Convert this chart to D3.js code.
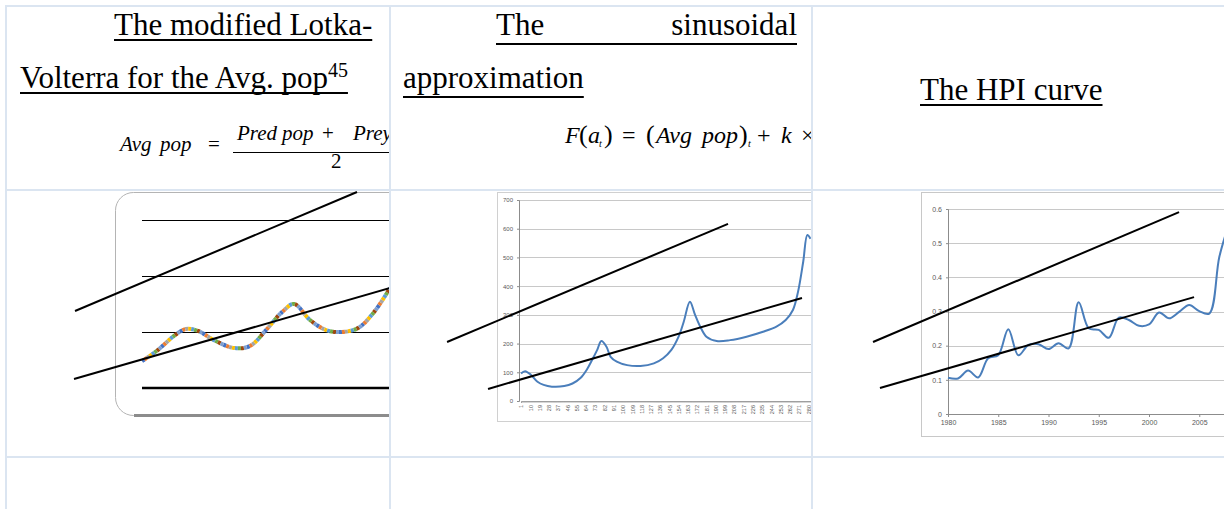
<!DOCTYPE html>
<html>
<head>
<meta charset="utf-8">
<script src="https://cdn.jsdelivr.net/npm/d3@7"></script>
<style>
  body { margin: 0; background: #fff; }
  .axis text { font-family: "Liberation Sans", sans-serif; fill: #595959; }
</style>
</head>
<body>
<script>
// page size
var w = 1224;
var h = 509;

/*
data
*/

// modified Lotka-Volterra: average population per step
var lvSteps = [0, 4, 8, 11, 14, 18, 23, 27, 31, 35, 38, 42, 46, 50, 54, 58, 62];
var lvAvgPop = [9.6, 13.6, 18.6, 21.1, 20.4, 17.1, 14.3, 15, 20.7, 27.1, 30, 24.3, 20.7, 20, 21.4, 27.1, 35.7];
var lvGrid = [20, 40, 60];
var lvUpperTrend = [[-16.75, 27.5], [53.75, 70]];
var lvLowerTrend = [[-17, 3.2], [62, 35.7]];

// sinusoidal approximation: category index and value
var sinIndex = [1, 5, 11, 17, 23, 31, 43, 51, 59, 65, 70, 75, 79, 84, 88, 94, 104, 117, 130, 139, 147, 154, 159, 165, 170, 175, 181, 191, 204, 220, 236, 249, 258, 265, 270, 275, 279, 282];
var sinValue = [96, 104, 90, 67, 56, 50, 52, 61, 81, 110, 143, 178, 209, 189, 154, 137, 125, 122, 131, 149, 178, 224, 276, 346, 300, 259, 224, 209, 212, 224, 241, 259, 282, 317, 381, 485, 578, 565];
var sinYTicks = [0, 100, 200, 300, 400, 500, 600, 700];
var sinXLabels = [1, 10, 19, 28, 37, 46, 55, 64, 73, 82, 91, 100, 109, 118, 127, 136, 145, 154, 163, 172, 181, 190, 199, 208, 217, 226, 235, 244, 253, 262, 271, 280];
var sinCategoryCount = 290;
var sinUpperTrend = [[-70.8, 205.6], [202, 617]];
var sinLowerTrend = [[-31, 42], [273.8, 359]];

// HPI curve
var hpiYears = [1980, 1981, 1982, 1983, 1984, 1985, 1986, 1987, 1988, 1989, 1990, 1991, 1992, 1993, 1994, 1995, 1996, 1997, 1998, 1999, 2000, 2001, 2002, 2003, 2004, 2005, 2006, 2007, 2008];
var hpiValues = [0.106, 0.104, 0.127, 0.107, 0.163, 0.172, 0.248, 0.172, 0.202, 0.204, 0.19, 0.207, 0.192, 0.327, 0.251, 0.246, 0.223, 0.282, 0.275, 0.258, 0.262, 0.297, 0.28, 0.299, 0.319, 0.301, 0.294, 0.46, 0.56];
var hpiYTicks = [0, 0.1, 0.2, 0.3, 0.4, 0.5, 0.6];
var hpiXTicks = [1980, 1985, 1990, 1995, 2000, 2005];
var hpiUpperTrend = [[1972.54, 0.2107], [2002.99, 0.591]];
var hpiLowerTrend = [[1973.23, 0.076], [2004.48, 0.342]];

// marker colours of the multicoloured series
var lvColors = ["#4472c4", "#ed7d31", "#a5a5a5", "#ffc000", "#5b9bd5", "#70ad47", "#9e480e", "#7f9fcf"];

var serif = "'Liberation Serif', 'Times New Roman', serif";

var svg = d3.select("body")
            .append("svg")
            .attr("width", w)
            .attr("height", h);

// one clip per table column
var defs = svg.append("defs");
[[7, 389], [391, 811], [813, 1224]].forEach(function(c, i) {
  defs.append("clipPath").attr("id", "col" + i)
      .append("rect")
      .attr("x", c[0]).attr("y", 0)
      .attr("width", c[1] - c[0]).attr("height", h);
});

// writes a header text
function headText(g, x, y, txt, anchor) {
  var t = g.append("text")
           .attr("x", x)
           .attr("y", y)
           .attr("font-family", serif)
           .attr("font-size", 31)
           .attr("text-anchor", anchor || "start")
           .text(txt);
  return t;
}

function underline(g, x1, x2, y) {
  g.append("line")
   .attr("x1", x1).attr("x2", x2)
   .attr("y1", y).attr("y2", y)
   .attr("stroke", "#000")
   .attr("stroke-width", 2);
}

// one piece of a formula
function mathText(g, x, y, txt, size, italic) {
  g.append("text")
   .attr("x", x).attr("y", y)
   .attr("font-family", serif)
   .attr("font-size", size)
   .attr("font-style", italic ? "italic" : "normal")
   .text(txt);
}

/*
column 1: Lotka-Volterra
*/
var c1 = svg.append("g").attr("clip-path", "url(#col0)");

var t1 = headText(c1, 114, 35, "The modified Lotka-");
underline(c1, 114, 114 + t1.node().getComputedTextLength(), 40);

var t2 = headText(c1, 20, 88, "Volterra for the Avg. pop");
t2.append("tspan").attr("dy", -11).attr("font-size", 20).text("45");
underline(c1, 20, 20 + t2.node().getComputedTextLength(), 93);

// formula: Avg pop = (Pred pop + Prey pop) / 2
mathText(c1, 120, 151, "Avg", 21, true);
mathText(c1, 160, 151, "pop", 21, true);
mathText(c1, 208, 151, "=", 21, false);
mathText(c1, 237, 140, "Pred", 21, true);
mathText(c1, 282, 140, "pop", 21, true);
mathText(c1, 322, 140, "+", 21, false);
mathText(c1, 353, 140, "Prey", 21, true);
mathText(c1, 331, 168, "2", 21, false);
c1.append("line")
  .attr("x1", 233).attr("x2", 440)
  .attr("y1", 152.5).attr("y2", 152.5)
  .attr("stroke", "#000").attr("stroke-width", 1.2);

// chart
var lvX = d3.scaleLinear().domain([0, 62]).range([142, 390]);
var lvY = d3.scaleLinear().domain([0, 60]).range([388, 220]);

c1.append("rect")
  .attr("x", 115.5).attr("y", 192.5)
  .attr("width", 330).attr("height", 223)
  .attr("rx", 18)
  .attr("fill", "none")
  .attr("stroke", "#b4b4b4");

c1.append("line")
  .attr("x1", 134).attr("x2", 440)
  .attr("y1", 415.5).attr("y2", 415.5)
  .attr("stroke", "#8c8c8c").attr("stroke-width", 3);

c1.selectAll(".lvgrid")
  .data(lvGrid)
  .enter()
  .append("line")
  .attr("class", "lvgrid")
  .attr("x1", lvX(0)).attr("x2", lvX(70))
  .attr("y1", d => Math.round(lvY(d)) + 0.5).attr("y2", d => Math.round(lvY(d)) + 0.5)
  .attr("stroke", "#000").attr("stroke-width", 1);

c1.append("line")
  .attr("x1", lvX(0)).attr("x2", lvX(70))
  .attr("y1", lvY(0)).attr("y2", lvY(0))
  .attr("stroke", "#000").attr("stroke-width", 2.4);

var lvLine = d3.line()
               .x(d => lvX(d[0]))
               .y(d => lvY(d[1]))
               .curve(d3.curveCatmullRom);
var lvPoints = lvSteps.map((s, i) => [s, lvAvgPop[i]]);

// dotted series, one dash colour after another
var dash = 3;
lvColors.forEach(function(col, i) {
  c1.append("path")
    .attr("d", lvLine(lvPoints))
    .attr("fill", "none")
    .attr("stroke", col)
    .attr("stroke-width", 4)
    .attr("stroke-dasharray", dash + " " + dash * (lvColors.length - 1))
    .attr("stroke-dashoffset", -dash * i);
});

var lvTrend = d3.line().x(d => lvX(d[0])).y(d => lvY(d[1]));
[lvUpperTrend, lvLowerTrend].forEach(function(tr) {
  c1.append("path")
    .attr("d", lvTrend(tr))
    .attr("fill", "none")
    .attr("stroke", "#000")
    .attr("stroke-width", 2);
});

/*
column 2: sinusoidal approximation
*/
var c2 = svg.append("g").attr("clip-path", "url(#col1)");

headText(c2, 496, 35, "The");
headText(c2, 797, 35, "sinusoidal", "end");
underline(c2, 496, 797, 44);
var t3 = headText(c2, 403, 88, "approximation");
underline(c2, 403, 403 + t3.node().getComputedTextLength(), 97);

// formula: F(a_t) = (Avg pop)_t + k x
mathText(c2, 565, 143, "F", 24, true);
mathText(c2, 579, 143, "(", 26, false);
mathText(c2, 588, 143, "a", 24, true);
mathText(c2, 599, 147, "t", 10, true);
mathText(c2, 604, 143, ")", 26, false);
mathText(c2, 622, 143, "=", 24, false);
mathText(c2, 646, 143, "(", 26, false);
mathText(c2, 656, 143, "Avg", 24, true);
mathText(c2, 702, 143, "pop", 24, true);
mathText(c2, 739, 143, ")", 26, false);
mathText(c2, 748, 147, "t", 10, true);
mathText(c2, 757, 143, "+", 24, false);
mathText(c2, 781, 143, "k", 24, true);
mathText(c2, 801, 143, "\u00d7", 24, false);

// chart
var sX = d3.scaleLinear()
           .domain([1, sinCategoryCount])
           .range([521, 521 + (sinCategoryCount - 1) * 1.03]);
var sY = d3.scaleLinear().domain([0, 700]).range([401, 200]);

c2.append("rect")
  .attr("x", 497.5).attr("y", 192.5)
  .attr("width", 340).attr("height", 229)
  .attr("fill", "#fff")
  .attr("stroke", "#d0d0d0");

c2.selectAll(".sgrid")
  .data(sinYTicks.slice(1))
  .enter()
  .append("line")
  .attr("class", "sgrid")
  .attr("x1", 519).attr("x2", 840)
  .attr("y1", d => Math.round(sY(d)) + 0.5).attr("y2", d => Math.round(sY(d)) + 0.5)
  .attr("stroke", "#c8c8c8");

var sYAxis = c2.append("g")
  .attr("class", "axis")
  .attr("transform", "translate(519,0)")
  .call(d3.axisLeft(sY).tickValues(sinYTicks).tickSize(2).tickPadding(4));
sYAxis.selectAll("text").attr("font-size", 6);
sYAxis.selectAll("line, path").attr("stroke", "#8c8c8c");

var sXAxis = c2.append("g")
  .attr("class", "axis")
  .attr("transform", "translate(0,401)")
  .call(d3.axisBottom(sX)
          .tickValues(d3.range(1, sinCategoryCount + 1))
          .tickSize(2)
          .tickFormat(d => sinXLabels.indexOf(d) >= 0 ? d : ""));
sXAxis.select(".domain").attr("stroke", "#8c8c8c");
sXAxis.selectAll("line").attr("stroke", "#b0b0b0").attr("stroke-width", 0.6);
sXAxis.selectAll("text")
  .attr("font-size", 5.5)
  .attr("transform", "rotate(-90)")
  .attr("text-anchor", "end")
  .attr("x", -4)
  .attr("y", 0)
  .attr("dy", "0.32em");

var sLine = d3.line()
              .x(d => sX(d[0]))
              .y(d => sY(d[1]))
              .curve(d3.curveCatmullRom);
c2.append("path")
  .attr("d", sLine(sinIndex.map((d, i) => [d, sinValue[i]])))
  .attr("fill", "none")
  .attr("stroke", "#4a7ebb")
  .attr("stroke-width", 2);

var sTrend = d3.line().x(d => sX(d[0])).y(d => sY(d[1]));
[sinUpperTrend, sinLowerTrend].forEach(function(tr) {
  c2.append("path")
    .attr("d", sTrend(tr))
    .attr("fill", "none")
    .attr("stroke", "#000")
    .attr("stroke-width", 2);
});

/*
column 3: HPI curve
*/
var c3 = svg.append("g").attr("clip-path", "url(#col2)");

var t4 = headText(c3, 920, 100, "The HPI curve");
underline(c3, 920, 920 + t4.node().getComputedTextLength(), 105);

var hX = d3.scaleLinear().domain([1980, 2008]).range([948, 948 + 28 * 10.05]);
var hY = d3.scaleLinear().domain([0, 0.6]).range([414, 209]);

c3.append("rect")
  .attr("x", 921.5).attr("y", 192.5)
  .attr("width", 340).attr("height", 244)
  .attr("fill", "#fff")
  .attr("stroke", "#c8c8c8");

c3.selectAll(".hgrid")
  .data(hpiYTicks.slice(1))
  .enter()
  .append("line")
  .attr("class", "hgrid")
  .attr("x1", 948).attr("x2", 1240)
  .attr("y1", d => Math.round(hY(d)) + 0.5).attr("y2", d => Math.round(hY(d)) + 0.5)
  .attr("stroke", "#c8c8c8");

var hYAxis = c3.append("g")
  .attr("class", "axis")
  .attr("transform", "translate(948,0)")
  .call(d3.axisLeft(hY).tickValues(hpiYTicks).tickSize(2).tickPadding(4).tickFormat(d3.format("~g")));
hYAxis.selectAll("text").attr("font-size", 7);
hYAxis.selectAll("line, path").attr("stroke", "#8c8c8c");

var hXAxis = c3.append("g")
  .attr("class", "axis")
  .attr("transform", "translate(0,414)")
  .call(d3.axisBottom(hX).tickValues(hpiXTicks).tickSize(3).tickPadding(3).tickFormat(d3.format("d")));
hXAxis.selectAll("text").attr("font-size", 7);
hXAxis.selectAll("line, path").attr("stroke", "#8c8c8c");

var hLine = d3.line()
              .x(d => hX(d[0]))
              .y(d => hY(d[1]))
              .curve(d3.curveCatmullRom);
c3.append("path")
  .attr("d", hLine(hpiYears.map((d, i) => [d, hpiValues[i]])))
  .attr("fill", "none")
  .attr("stroke", "#4a7ebb")
  .attr("stroke-width", 2);

var hTrend = d3.line().x(d => hX(d[0])).y(d => hY(d[1]));
[hpiUpperTrend, hpiLowerTrend].forEach(function(tr) {
  c3.append("path")
    .attr("d", hTrend(tr))
    .attr("fill", "none")
    .attr("stroke", "#000")
    .attr("stroke-width", 2);
});

/*
table borders
*/
var border = "#dbe5f1";
[6, 390, 812].forEach(function(x) {
  svg.append("line")
     .attr("x1", x).attr("x2", x)
     .attr("y1", 5).attr("y2", h)
     .attr("stroke", border).attr("stroke-width", 2);
});
[6, 190, 457].forEach(function(y) {
  svg.append("line")
     .attr("x1", 5).attr("x2", w)
     .attr("y1", y).attr("y2", y)
     .attr("stroke", border).attr("stroke-width", 2);
});
</script>
</body>
</html>
